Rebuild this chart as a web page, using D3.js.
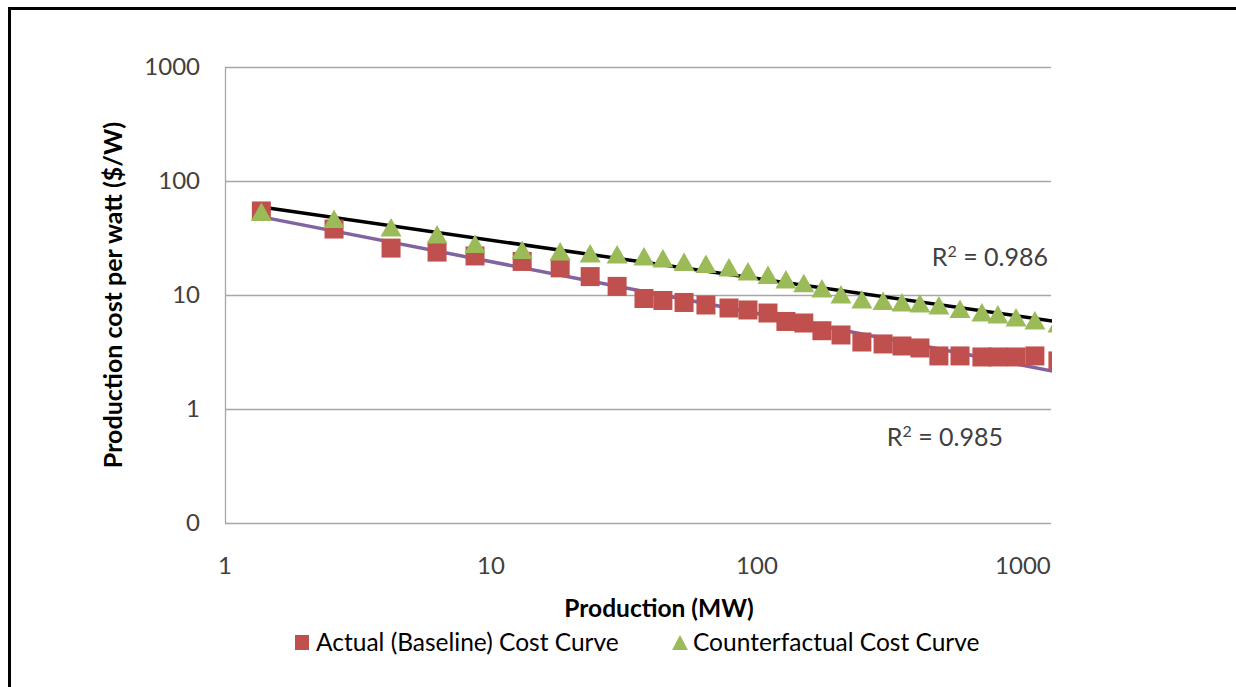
<!DOCTYPE html>
<html>
<head>
<meta charset="utf-8">
<title>Production cost curves</title>
<script src="https://cdn.jsdelivr.net/npm/d3@7"></script>
<style>
  body { margin: 0; background: #fff; }
  svg { font-family: Lato, "Open Sans", sans-serif; }
</style>
</head>
<body>
<svg id="chart" width="1236" height="687"></svg>
<script>
// cumulative production (MW), shared by both series
var production = [1.37, 2.57, 4.21, 6.27, 8.71, 13.1, 18.2, 23.6, 29.8, 37.6,
  44.3, 53.2, 64.3, 78.5, 92.5, 110, 128.5, 150, 175.5, 207,
  248, 298, 351, 410, 483, 580, 701, 805, 942, 1109, 1354];
// $/W
var actualCost = [54.6, 37.9, 25.8, 23.8, 22.0, 19.7, 17.3, 14.5, 11.9, 9.32,
  8.95, 8.60, 8.17, 7.69, 7.39, 6.95, 5.86, 5.68, 4.86, 4.46,
  3.87, 3.72, 3.57, 3.43, 2.92, 2.92, 2.86, 2.86, 2.86, 2.92, 2.64];
var counterfactualCost = [53.5, 46.4, 39.1, 33.9, 28.0, 24.8, 24.1, 23.1, 22.7, 21.8,
  20.9, 19.5, 18.7, 17.4, 16.1, 15.0, 13.7, 12.7, 11.4, 10.1,
  9.14, 8.86, 8.60, 8.42, 8.09, 7.54, 7.02, 6.75, 6.35, 5.98, 5.62];

var xTicks = [1, 10, 100, 1000];
var yTicks = [0.1, 1, 10, 100, 1000];
var yTickLabels = ["0", "1", "10", "100", "1000"];
var seriesNames = ["Actual (Baseline) Cost Curve", "Counterfactual Cost Curve"];
var rSquaredValues = ["0.985", "0.986"];

var red = "#C0504D", green = "#9BBB59", purple = "#8064A2";
var plotL = 225, plotR = 1051, plotT = 67, plotB = 523;

var svg = d3.select("#chart");

// outer frame (only top/left edges visible)
svg.append("rect")
  .attr("x", 9.5).attr("y", 8.5)
  .attr("width", 1400).attr("height", 900)
  .attr("fill", "none").attr("stroke", "#000").attr("stroke-width", 3);

var x = d3.scaleLog().domain([1, 1275]).range([plotL, plotR]);
var y = d3.scaleLog().domain([0.1, 1000]).range([plotB, plotT]);

svg.append("clipPath").attr("id", "plot")
  .append("rect").attr("x", plotL).attr("y", plotT - 20)
  .attr("width", plotR - plotL + 1).attr("height", plotB - plotT + 20);

// gridlines
svg.append("g").selectAll("line")
  .data(yTicks)
  .enter().append("line")
  .attr("x1", plotL).attr("x2", plotR)
  .attr("y1", function (d) { return Math.round(y(d)) + 0.5; })
  .attr("y2", function (d) { return Math.round(y(d)) + 0.5; })
  .attr("stroke", "#a6a6a6").attr("stroke-width", 1.3);

svg.append("line")
  .attr("x1", plotL + 0.5).attr("x2", plotL + 0.5)
  .attr("y1", plotT).attr("y2", plotB)
  .attr("stroke", "#a6a6a6").attr("stroke-width", 1.3);

// tick labels
svg.append("g").selectAll("text")
  .data(yTicks)
  .enter().append("text")
  .attr("x", 200)
  .attr("y", function (d) { return y(d); })
  .attr("dy", "0.35em")
  .attr("text-anchor", "end")
  .attr("font-size", 24)
  .attr("fill", "#404040")
  .text(function (d, i) { return yTickLabels[i]; });

svg.append("g").selectAll("text")
  .data(xTicks)
  .enter().append("text")
  .attr("x", function (d) { return x(d); })
  .attr("y", 566)
  .attr("dy", "0.35em")
  .attr("text-anchor", "middle")
  .attr("font-size", 24)
  .attr("fill", "#404040")
  .text(function (d) { return d; });

// axis titles
svg.append("text")
  .attr("x", 659).attr("y", 608).attr("dy", "0.35em")
  .attr("text-anchor", "middle")
  .attr("font-size", 24.5).attr("font-weight", "bold").attr("fill", "#000")
  .text("Production (MW)");

svg.append("text")
  .attr("transform", "translate(113,295) rotate(-90)")
  .attr("dy", "0.35em")
  .attr("text-anchor", "middle")
  .attr("font-size", 25).attr("font-weight", "bold").attr("fill", "#000")
  .text("Production cost per watt ($/W)");

// power trendline: least squares in log-log space
function powerFit(xs, ys) {
  var lx = xs.map(Math.log10), ly = ys.map(Math.log10);
  var mx = d3.mean(lx), my = d3.mean(ly);
  var sxy = d3.sum(lx, function (v, i) { return (v - mx) * (ly[i] - my); });
  var sxx = d3.sum(lx, function (v) { return (v - mx) * (v - mx); });
  var b = sxy / sxx, a = my - b * mx;
  return function (v) { return Math.pow(10, a + b * Math.log10(v)); };
}

var series = [
  { name: seriesNames[0], values: actualCost, color: red, line: purple },
  { name: seriesNames[1], values: counterfactualCost, color: green, line: "#000" }
];

var plot = svg.append("g").attr("clip-path", "url(#plot)");

series.forEach(function (s) {
  var f = powerFit(production, s.values);
  var ends = d3.extent(production);
  plot.append("path")
    .datum(ends)
    .attr("d", d3.line()
      .x(function (d) { return x(d); })
      .y(function (d) { return y(f(d)); }))
    .attr("fill", "none")
    .attr("stroke", s.line)
    .attr("stroke-width", 3.5);
});

var tri = "M0,-9.5L10.5,9L-10.5,9Z";

plot.append("g").selectAll("rect")
  .data(actualCost)
  .enter().append("rect")
  .attr("x", function (d, i) { return x(production[i]) - 9.5; })
  .attr("y", function (d) { return y(d) - 9.5; })
  .attr("width", 19).attr("height", 19)
  .attr("fill", red);

plot.append("g").selectAll("path")
  .data(counterfactualCost)
  .enter().append("path")
  .attr("transform", function (d, i) {
    return "translate(" + x(production[i]) + "," + y(d) + ")";
  })
  .attr("d", tri)
  .attr("fill", green);

// R squared labels
function rLabel(xp, yp, val) {
  var t = svg.append("text")
    .attr("x", xp).attr("y", yp).attr("dy", "0.35em")
    .attr("text-anchor", "end").attr("font-size", 25).attr("fill", "#404040");
  t.append("tspan").text("R");
  t.append("tspan").attr("font-size", 16).attr("dy", "-0.55em").text("2");
  t.append("tspan").attr("dy", "0.35em").text(" = " + val);
}
rLabel(1003, 437, rSquaredValues[0]);
rLabel(1048, 257, rSquaredValues[1]);

// legend
var legend = svg.append("g");
legend.append("rect")
  .attr("x", 295).attr("y", 635).attr("width", 14).attr("height", 15)
  .attr("fill", red);
legend.append("text")
  .attr("x", 316).attr("y", 642).attr("dy", "0.35em")
  .attr("font-size", 24.5).attr("fill", "#000")
  .text(seriesNames[0]);
legend.append("path")
  .attr("transform", "translate(680,643)")
  .attr("d", "M0,-8L8,7L-8,7Z")
  .attr("fill", green);
legend.append("text")
  .attr("x", 693).attr("y", 642).attr("dy", "0.35em")
  .attr("font-size", 24.5).attr("fill", "#000")
  .text(seriesNames[1]);
</script>
</body>
</html>
